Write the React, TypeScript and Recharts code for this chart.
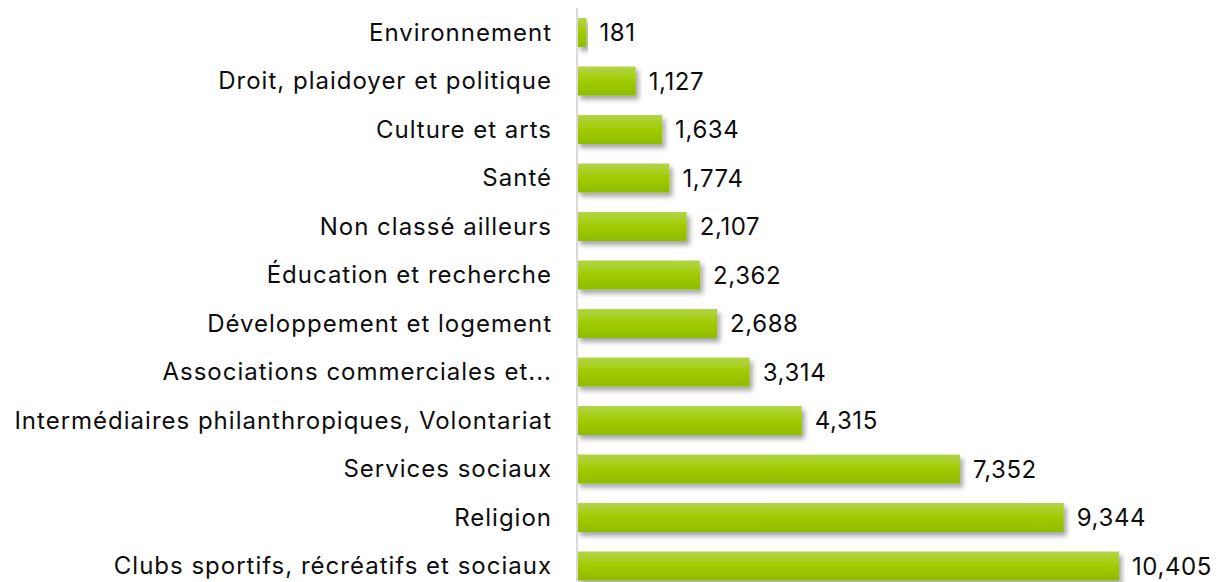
import { BarChart, Bar, XAxis, YAxis, LabelList } from "recharts";

const CATEGORIES = [
  "Environnement",
  "Droit, plaidoyer et politique",
  "Culture et arts",
  "Santé",
  "Non classé ailleurs",
  "Éducation et recherche",
  "Développement et logement",
  "Associations commerciales et...",
  "Intermédiaires philanthropiques, Volontariat",
  "Services sociaux",
  "Religion",
  "Clubs sportifs, récréatifs et sociaux",
];

const VALUES = [181, 1127, 1634, 1774, 2107, 2362, 2688, 3314, 4315, 7352, 9344, 10405];

const rows = CATEGORIES.map((name, i) => ({ name, value: VALUES[i] }));

const FONT = "Inter, 'Noto Sans', sans-serif";
const textStyle = { fontSize: 24, fill: "#0d0d0d", fontFamily: FONT, letterSpacing: "1px" };
const valueStyle = { ...textStyle, letterSpacing: "0.6px" };

export default function App() {
  return (
    // clip the overflowing bottom row like the original, without causing page scroll
    <div style={{ fontFamily: FONT, height: 574, overflow: "hidden" }}>
      <BarChart
        width={1203}
        height={582}
        data={rows}
        layout="vertical"
        margin={{ top: 0, right: 92, bottom: 0, left: 0 }}
        style={{ overflow: "visible" }}
      >
        <defs>
          <linearGradient id="barFill" x1="0" y1="0" x2="0" y2="1">
            <stop offset="0%" stopColor="#b3d44a" />
            <stop offset="45%" stopColor="#a2cd05" />
            <stop offset="100%" stopColor="#8fbb00" />
          </linearGradient>
          <filter id="barShadow" x="-5%" y="-20%" width="115%" height="160%">
            <feDropShadow dx="3" dy="4" stdDeviation="2.5" floodColor="#000" floodOpacity="0.35" />
          </filter>
        </defs>
        <XAxis type="number" hide domain={[0, "dataMax"]} />
        <YAxis
          type="category"
          dataKey="name"
          width={569}
          tickLine={false}
          tickMargin={19}
          axisLine={{ stroke: "#d9d9d9", strokeWidth: 2 }}
          tick={textStyle}
          interval={0}
        />
        <Bar
          dataKey="value"
          fill="url(#barFill)"
          barSize={29}
          filter="url(#barShadow)"
          isAnimationActive={false}
        >
          <LabelList
            dataKey="value"
            position="right"
            offset={13}
            formatter={(v: number) => v.toLocaleString("en-US")}
            style={valueStyle}
          />
        </Bar>
      </BarChart>
    </div>
  );
}
